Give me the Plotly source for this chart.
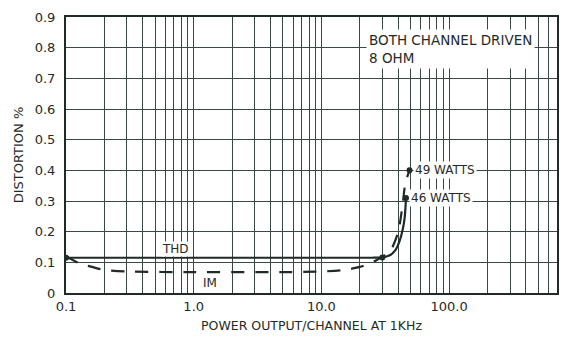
import math
import plotly.graph_objects as go

# Data
thd_power = [0.1, 0.2, 1.0, 10.0, 25.0, 30.0, 34.0, 38.0, 41.0, 43.5, 45.0, 46.0]
thd_dist = [0.115, 0.115, 0.115, 0.115, 0.115, 0.116, 0.122, 0.14, 0.17, 0.21, 0.25, 0.31]

im_power = [0.1, 0.13, 0.16, 0.2, 0.3, 1.0, 5.0, 10.0, 15.0, 20.0, 25.0, 30.0, 35.0, 40.0, 43.0, 45.5, 49.0]
im_dist = [0.12, 0.095, 0.085, 0.075, 0.07, 0.068, 0.068, 0.07, 0.075, 0.085, 0.1, 0.118, 0.14, 0.2, 0.28, 0.36, 0.40]

end_labels = ["49 WATTS", "46 WATTS"]
end_power = [49.0, 46.0]
end_dist = [0.40, 0.31]

curve_labels = ["THD", "IM"]
curve_label_power = [0.72, 1.35]
curve_label_dist = [0.142, 0.033]

x_major_vals = [0.1, 1.0, 10.0, 100.0]
x_major_text = ["0.1", "1.0", "10.0", "100.0"]
y_tick_vals = [0, 0.1, 0.2, 0.3, 0.4, 0.5, 0.6, 0.7, 0.8, 0.9]
y_tick_text = ["0", "0.1", "0.2", "0.3", "0.4", "0.5", "0.6", "0.7", "0.8", "0.9"]

INK = "#1f2b26"
GRID = "#3a4842"
FONT = "DejaVu Sans, Arial, sans-serif"

# every 1..9 multiple per decade up to 700 for the grid
x_grid_vals = []
x_grid_text = []
for dec in x_major_vals:
    for m in range(1, 10):
        v = round(dec * m, 6)
        if v > 700:
            break
        x_grid_vals.append(v)
        x_grid_text.append(x_major_text[x_major_vals.index(dec)] if m == 1 else "")

fig = go.Figure()

fig.add_trace(go.Scatter(
    x=im_power, y=im_dist, mode="lines",
    line=dict(color=INK, width=2.2, dash="13px,11px", shape="spline", smoothing=0.6),
    hoverinfo="skip", showlegend=False))

fig.add_trace(go.Scatter(
    x=thd_power, y=thd_dist, mode="lines",
    line=dict(color=INK, width=2.2, shape="spline", smoothing=0.6),
    hoverinfo="skip", showlegend=False))

fig.add_trace(go.Scatter(
    x=end_power + [thd_power[5], thd_power[0]],
    y=end_dist + [thd_dist[5], thd_dist[0]],
    mode="markers", marker=dict(color=INK, size=6),
    hoverinfo="skip", showlegend=False))

for lab, px, py in zip(end_labels, end_power, end_dist):
    fig.add_annotation(x=math.log10(px), y=py, text=lab, showarrow=False,
                       xanchor="left", yanchor="middle", xshift=3,
                       bgcolor="white", borderpad=1,
                       font=dict(family=FONT, size=12, color=INK))

for lab, px, py in zip(curve_labels, curve_label_power, curve_label_dist):
    fig.add_annotation(x=math.log10(px), y=py, text=lab, showarrow=False,
                       bgcolor="white", borderpad=0,
                       font=dict(family=FONT, size=12, color=INK))

fig.add_annotation(xref="paper", yref="paper", x=0.612, y=0.955,
                   text="BOTH CHANNEL DRIVEN<br>8 OHM", showarrow=False,
                   xanchor="left", yanchor="top", align="left",
                   bgcolor="white", borderpad=2,
                   font=dict(family=FONT, size=13.5, color=INK))

fig.update_xaxes(
    type="log", range=[-1, 2.845], automargin=False,
    tickmode="array", tickvals=x_grid_vals, ticktext=x_grid_text,
    showgrid=True, gridcolor=GRID, gridwidth=1.3,
    showline=True, linecolor=INK, linewidth=2, mirror=True,
    ticks="", zeroline=False,
    tickfont=dict(family=FONT, size=13, color=INK),
    title=dict(text="POWER OUTPUT/CHANNEL AT 1KHz", standoff=9,
               font=dict(family=FONT, size=12.5, color=INK)))

fig.update_yaxes(
    range=[0, 0.9], automargin=False,
    tickmode="array", tickvals=y_tick_vals, ticktext=y_tick_text,
    showgrid=True, gridcolor=GRID, gridwidth=1.3,
    showline=True, linecolor=INK, linewidth=2, mirror=True,
    ticks="", zeroline=False, ticklabelstandoff=6,
    tickfont=dict(family=FONT, size=13, color=INK),
    title=dict(text="DISTORTION %", standoff=8,
               font=dict(family=FONT, size=13, color=INK)))

fig.update_layout(
    width=564, height=338,
    margin=dict(l=66, r=7, t=17, b=45),
    paper_bgcolor="white", plot_bgcolor="white",
    showlegend=False)

fig.write_html("out.html", config={"displayModeBar": False},
               post_script="document.body.style.margin='0';")
